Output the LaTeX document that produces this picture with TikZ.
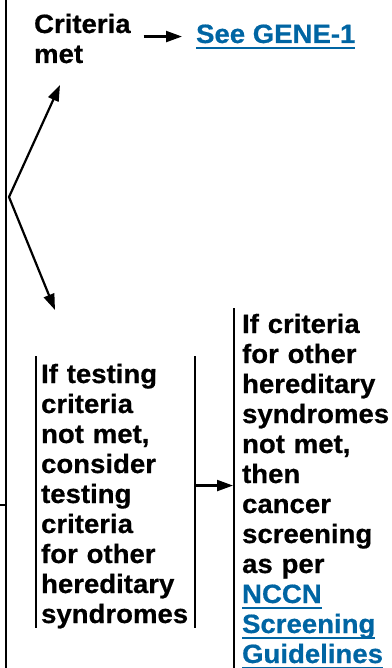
\documentclass[tikz,border=0pt]{standalone}
\usepackage{fontspec}
\setmainfont[FakeStretch=1.04,BoldFeatures={FakeBold=0.6}]{Liberation Sans}
\usepackage{xcolor}
\usetikzlibrary{arrows.meta,positioning,calc}
\definecolor{nccnblue}{RGB}{0,101,163}
\newcommand{\nccnlink}[1]{\textcolor{nccnblue}{\setbox0\hbox{#1}\rlap{\rule[-5.6pt]{\wd0}{1.6pt}}\box0}}

\begin{document}
\begin{tikzpicture}[x=1pt,y=-1pt,line width=2.2pt,
  >={Triangle[length=16pt,width=11pt]},
  txt/.style={inner sep=0pt,align=left,font=\fontsize{26.5}{30}\selectfont\bfseries},
  bar/.style={line width=2pt}]
\useasboundingbox (0,0) rectangle (391,668);
% rail on the left
\coordinate (railtop) at (6,0);
\coordinate (railbot) at (6,668);
\coordinate (stub) at (0,505);
\draw[line width=2.4pt] (railtop) -- (railbot);
\draw (stub) -- (stub -| railtop);
% split
\coordinate (split) at (9,197);
\coordinate (uptip) at (60,85);
\coordinate (downtip) at (55,310);
\node[txt,anchor=north west] (met) at (33,12.7) {Criteria\\met};
\node[txt,anchor=base west] (gene) at (195,43) {\nccnlink{See GENE-1}};
\node[txt,anchor=north west,text width=153pt] (notmet) at (40,362.7)
  {If testing\\criteria\\not met,\\consider\\testing\\criteria\\for other\\hereditary\\syndromes};
\node[txt,anchor=north west,text width=150pt] (screen) at (241,312.7)
  {If criteria\\for other\\hereditary\\syndromes\\not met,\\then\\cancer\\screening\\as per\\\nccnlink{NCCN}\\\nccnlink{Screening}\\\nccnlink{Guidelines}};
\draw[<->] (uptip) -- (split) -- (downtip);
\draw[->] ([xshift=12pt]gene.west -| met.east) -- ([xshift=-13pt]gene.west);
% bars
\draw[bar] ([xshift=-4pt,yshift=6.7pt]notmet.north west) -- ([xshift=-4pt,yshift=1.6pt]notmet.south west);
\draw[bar] ([yshift=6.7pt]notmet.north east) -- ([yshift=1.6pt]notmet.south east);
\draw[bar] ([xshift=-7pt,yshift=4.7pt]screen.north west) -- ([xshift=-7pt]screen.west |- railbot);
\draw[->] ([yshift=10.6pt]notmet.east) -- ([xshift=-8pt,yshift=10.6pt]notmet.east -| screen.west);
\end{tikzpicture}
\end{document}
